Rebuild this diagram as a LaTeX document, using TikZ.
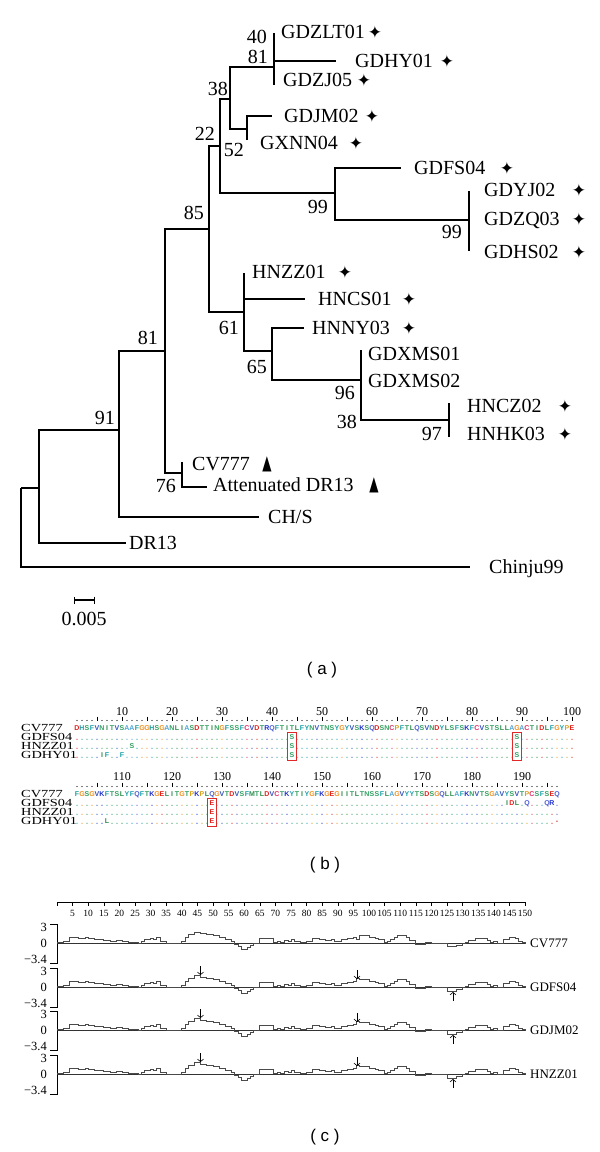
\documentclass[tikz,border=0pt]{standalone}
\usepackage{fontspec}
\usepackage{graphicx}
\setmainfont{Liberation Serif}
\newfontfamily\symfont{DejaVu Sans}
\newfontfamily\panelfont{Liberation Sans}
\newfontfamily\seqfont{Liberation Sans}
\usetikzlibrary{arrows.meta}

% residue colours
\definecolor{aaD}{HTML}{E0201B}\colorlet{aaE}{aaD}
\definecolor{aaK}{HTML}{1E2FD0}\colorlet{aaR}{aaK}
\definecolor{aaC}{HTML}{E0306A}
\definecolor{aaG}{HTML}{F0901E}
\definecolor{aaP}{HTML}{D6A21A}
\definecolor{aaH}{HTML}{1AA0A8}\colorlet{aaY}{aaH}\colorlet{aaF}{aaH}\colorlet{aaW}{aaH}
\definecolor{aaS}{HTML}{30A060}\colorlet{aaT}{aaS}\colorlet{aaN}{aaS}
\definecolor{aaQ}{HTML}{4F5FD0}
\definecolor{aaA}{HTML}{4FA6D6}
\definecolor{aaV}{HTML}{3050C0}
\definecolor{aaL}{HTML}{2C8C4C}\colorlet{aaI}{aaL}\colorlet{aaM}{aaL}
\definecolor{aagap}{HTML}{C03030}
\definecolor{boxred}{HTML}{E02828}
\definecolor{hygray}{HTML}{4A4A4A}

% changes against CV777
\newcommand\subst[3]{\expandafter\def\csname sub#1#2\endcsname{#3}\expandafter\def\csname subc#1#2\endcsname{#3}}
\newcommand\substgap[2]{\expandafter\def\csname sub#1#2\endcsname{-}\expandafter\def\csname subc#1#2\endcsname{gap}}
\subst{zz}{12}{S}
\subst{hy}{6}{I}\subst{hy}{7}{F}\subst{hy}{10}{F}
\subst{fs}{44}{S}\subst{zz}{44}{S}\subst{hy}{44}{S}
\subst{fs}{89}{S}\subst{zz}{89}{S}\subst{hy}{89}{S}
\subst{hy}{107}{L}
\subst{fs}{128}{E}\subst{zz}{128}{E}\subst{hy}{128}{E}
\subst{fs}{187}{I}\subst{fs}{188}{D}\subst{fs}{189}{L}
\subst{fs}{191}{Q}\subst{fs}{195}{Q}\subst{fs}{196}{R}
\substgap{hy}{197}

\def\seqA{D,H,S,F,V,N,I,T,V,S,A,A,F,G,G,H,S,G,A,N,L,I,A,S,D,T,T,I,N,G,F,S,S,F,C,V,D,T,R,Q,F,T,I,T,L,F,Y,N,V,T,N,S,Y,G,Y,V,S,K,S,Q,D,S,N,C,P,F,T,L,Q,S,V,N,D,Y,L,S,F,S,K,F,C,V,S,T,S,L,L,A,G,A,C,T,I,D,L,F,G,Y,P,E}
\def\seqB{F,G,S,G,V,K,F,T,S,L,Y,F,Q,F,T,K,G,E,L,I,T,G,T,P,K,P,L,Q,G,V,T,D,V,S,F,M,T,L,D,V,C,T,K,Y,T,I,Y,G,F,K,G,E,G,I,I,T,L,T,N,S,S,F,L,A,G,V,Y,Y,T,S,D,S,G,Q,L,L,A,F,K,N,V,T,S,G,A,V,Y,S,V,T,P,C,S,F,S,E,Q}

% one block of the alignment: list, offset, y of ruler
\newcommand\alblock[3]{%
  \foreach \ch [count=\i] in #1 {
    \pgfmathtruncatemacro\rn{\i+#2}
    \node[res=\ch] (cv-\rn) at ({72+5*\i},#3+9) {\ch};
    \foreach \r/\dy in {fs/18,zz/27,hy/36} {
      \ifcsname sub\r\rn\endcsname
        \edef\sl{\csname sub\r\rn\endcsname}\edef\sc{\csname subc\r\rn\endcsname}
        \node[res=\sc] (\r-\rn) at ({72+5*\i},#3+\dy) {\sl};
      \else
        \fill[fill=aa\ch] ({72+5*\i},#3+\dy+2.3) circle[radius=0.65pt];
      \fi
    }
  }}
\newcommand\alruler[2]{%
  \foreach \i in {1,...,#1} {
    \pgfmathtruncatemacro\m{mod(\i,5)}
    \ifnum\m=0 \draw[rulemark] ({72+5*\i},#2-2.5) -- ({72+5*\i},#2+2);
    \else \fill ({72+5*\i},#2+1.5) circle[radius=0.55pt]; \fi
  }}

% hydropathy steps: start residue / value
\def\hyprof{2/0.3,4/0.9,7/0.75,9/0.95,10/0.7,12/0.6,15/0.5,17/0.2,19/0.5,21/0.35,23/0.15,25/0.05,26/-0.1,27/0.3,28/0.55,30/0.8,31/0.55,32/0.9,33/0.35,35/0,40/0.3,41/1.0,42/1.5,44/\vpk,46/1.6,48/1.45,50/1.2,52/1.0,54/0.6,56/0.3,57/-0.3,58/-0.6,59/-1.0,61/-0.8,62/-0.4,63/0,65/0.7,69.5/0.05,70.5/0.3,71.5/0.15,73/0.45,74/0.3,75/0.6,76/0.2,78/0.1,80/0.25,82/0.7,84/0.55,86/0.45,88/0.6,89/0.2,91/0.55,93/0.7,95/0.95,96/\vsp,97/1.3,99/1.2,100/0.9,102/0.7,103/0.55,105/0.15,106/0.3,107/0.6,108/0.9,109/1.2,112/1.0,113/0.4,115/-0.3,116/-0.15,118/0.1,120/0,125/\vdp,128/-0.4,130/-0.1,131/0.1,132/0.5,134/0.7,136/0.8,138/0.5,139/0.1,140/0.3,141/0,143/0.6,145/0.9,147/0.7,148/0.3,149/0.05,150/0}

\begin{document}
\begin{tikzpicture}[x=1pt, y=-1pt,
    branch/.style={line width=1.2pt},
    leaf/.style={anchor=west, inner sep=0pt, font=\fontsize{20}{24}\selectfont, text height=13.2pt, text depth=0pt},
    boot/.style={leaf, anchor=east},
    tagstar/.style={inner sep=0pt, font=\symfont\fontsize{17}{17}\selectfont},
    tagtri/.style={inner sep=0pt, font=\symfont\fontsize{20}{20}\selectfont},
    panel/.style={inner sep=0pt, font=\panelfont\fontsize{17}{20}\selectfont},
    seqname/.style={anchor=west, inner sep=0pt, font=\fontsize{10.8}{11}\selectfont, text height=7.2pt, text depth=0pt},
    posnum/.style={inner sep=0pt, font=\fontsize{12}{12}\selectfont, text height=8pt, text depth=0pt},
    res/.style={inner sep=0pt, font=\seqfont\bfseries\fontsize{7}{7}\selectfont, text=aa#1, text height=5pt, text depth=0pt},
    hlbox/.style={draw=boxred, line width=0.6pt},
    rulemark/.style={line width=0.5pt},
    axisline/.style={line width=0.6pt},
    zeroline/.style={line width=0.8pt, draw=black!80},
    hyline/.style={line width=0.7pt, draw=hygray},
    hyarrow/.style={-{Straight Barb[length=2.5pt,width=6pt]}, line width=0.6pt},
    ylab/.style={anchor=east, inner sep=0pt, font=\fontsize{12.5}{12.5}\selectfont, text height=8.3pt, text depth=0pt},
    plotname/.style={anchor=west, inner sep=0pt, font=\fontsize{13}{13}\selectfont, text height=8.6pt, text depth=0pt},
    tick/.style={inner sep=0pt, font=\fontsize{9.5}{9.5}\selectfont, text height=6.4pt, text depth=0pt}]
  \useasboundingbox (0,0) rectangle (600,1152);

  % (a) tree
  \coordinate (root) at (21,488);
  \coordinate (nA) at (39,488);
  \coordinate (n91) at (119,430);
  \coordinate (n81) at (165,351);
  \coordinate (n85) at (209,229);
  \coordinate (n22) at (220,146);
  \coordinate (n38) at (230,99);
  \coordinate (n81b) at (274,67);
  \coordinate (n52) at (247,129);
  \coordinate (n99a) at (335,193);
  \coordinate (n99b) at (469,220);
  \coordinate (n61) at (244,312);
  \coordinate (n65) at (272,351);
  \coordinate (n96) at (361,380);
  \coordinate (n97) at (449,420);
  \coordinate (n76) at (182,473);
  \coordinate (t-gdzlt) at (274,33);
  \coordinate (t-gdhy) at (336,61);
  \coordinate (t-gdzj) at (274,85);
  \coordinate (t-gdjm) at (272,116);
  \coordinate (t-gxnn) at (247,140);
  \coordinate (t-gdfs) at (401,168);
  \coordinate (t-gdyj) at (469,191);
  \coordinate (t-gdhs) at (469,251);
  \coordinate (t-hnzz) at (244,273);
  \coordinate (t-hncs) at (305,299);
  \coordinate (t-hnny) at (304,328);
  \coordinate (t-gdxms) at (361,350);
  \coordinate (t-hncz) at (449,403);
  \coordinate (t-hnhk) at (449,437);
  \coordinate (t-cv) at (182,462);
  \coordinate (t-att) at (207,487);
  \coordinate (t-chs) at (259,517);
  \coordinate (t-dr13) at (126,543);
  \coordinate (t-chinju) at (470,567);

  \foreach \p/\c in {root/t-chinju, root/nA, nA/n91, nA/t-dr13, n91/n81, n91/t-chs,
      n81/n85, n81/n76, n85/n22, n85/n61, n22/n38, n22/n99a, n38/n81b, n38/n52,
      n81b/t-gdzlt, n81b/t-gdhy, n81b/t-gdzj, n52/t-gdjm, n52/t-gxnn,
      n99a/t-gdfs, n99a/n99b, n99b/t-gdyj, n99b/t-gdhs,
      n61/t-hnzz, n61/t-hncs, n61/n65, n65/t-hnny, n65/n96,
      n96/t-gdxms, n96/n97, n97/t-hncz, n97/t-hnhk, n76/t-cv, n76/t-att}
    \draw[branch] (\p) |- (\c);

  \foreach \nm/\x/\y/\t in {GDZLT01/281/32/gdzlt, GDHY01/355/61/gdhy, GDZJ05/283/80/gdzj,
      GDJM02/284/116/gdjm, GXNN04/260/143/gxnn, GDFS04/414/168/gdfs,
      GDYJ02/484/190/gdyj, GDZQ03/484/219/gdzq, GDHS02/484/252/gdhs,
      HNZZ01/252/272/hnzz, HNCS01/318/299/hncs, HNNY03/312/328/hnny,
      GDXMS01/368/354/gdxms1, GDXMS02/368/381/gdxms2, HNCZ02/467/406/hncz,
      HNHK03/467/434/hnhk, CV777/192/464/cv, Attenuated DR13/213/485/att,
      DR13/129/543/dr13, Chinju99/489/567/chinju}
    \node[leaf] (\t) at (\x,\y) {\nm};
  \node[leaf] (chs) at (268,517) {CH/S};

  \foreach \x/\y/\t in {375/32/gdzlt, 447/61/gdhy, 364/80/gdzj, 372/116/gdjm, 356/143/gxnn,
      507/168/gdfs, 579/190/gdyj, 579/219/gdzq, 579/252/gdhs, 345/272/hnzz,
      409/299/hncs, 409/328/hnny, 565/406/hncz, 565/434/hnhk}
    \node[tagstar] (s-\t) at (\x,\y) {✦};
  \node[tagtri] (tri-cv) at (267,464) {\scalebox{0.6}[1]{▲}};
  \node[tagtri] (tri-att) at (374,485) {\scalebox{0.6}[1]{▲}};

  % bootstrap values
  \foreach \v/\x/\y/\t in {40/267/37/a, 81/268/57/b, 38/228/89/c, 52/244/150/d,
      22/215/134/e, 85/204/213/f, 99/328/207/g, 99/462/232/h, 61/239/328/i,
      65/267/367/j, 96/355/393/k, 38/357/422/l, 97/442/434/m, 81/158/338/n,
      76/176/486/o, 91/115/418/p}
    \node[boot] (bs-\t) at (\x,\y) {\v};

  % scale bar
  \coordinate (sb-l) at (74,600);
  \coordinate (sb-r) at (95,600);
  \draw[line width=1.1pt, {Bar[width=7pt]}-{Bar[width=7pt]}] (sb-l) -- (sb-r);
  \node[leaf, anchor=center] (sb-lab) at (84,619) {0.005};

  \node[panel] (lab-a) at (322,670) {( a )};

  % (b) alignment
  \foreach \r/\nm/\y in {cv/CV777/728, fs/GDFS04/737, zz/HNZZ01/746, hy/GDHY01/755}
    \node[seqname] (nm1-\r) at (21,\y) {\scalebox{1.33}[1]{\nm}};
  \foreach \r/\nm/\y in {cv/CV777/794, fs/GDFS04/803, zz/HNZZ01/812, hy/GDHY01/821}
    \node[seqname] (nm2-\r) at (21,\y) {\scalebox{1.33}[1]{\nm}};
  \foreach \v in {10,20,...,100}
    \node[posnum] (p1-\v) at ({72+5*\v},711) {\v};
  \foreach \v in {10,20,...,90}
    \node[posnum] (p2-\v) at ({72+5*\v},776) {\number\numexpr\v+100\relax};
  \alruler{100}{719}
  \alruler{97}{785}
  \alblock{\seqA}{0}{719}
  \alblock{\seqB}{100}{785}
  \draw[hlbox] (287.5,732.5) rectangle (296.5,760.5);
  \draw[hlbox] (512.5,732.5) rectangle (521.5,760.5);
  \draw[hlbox] (207.5,798.5) rectangle (216.5,826.5);

  \node[panel] (lab-b) at (325,865) {( b )};

  % (c) hydropathy
  \draw[axisline] (57,902) -- (525,902);
  \foreach \v in {0,5,...,150}
    \draw[axisline] ({57+3.12*\v},902) -- ++(0,4);
  \foreach \v in {5,10,...,150}
    \node[tick] (hx-\v) at ({57+3.12*\v},913) {\v};

  \foreach \nm/\zy/\pkv/\spv/\dpv [count=\k] in {CV777/943/1.8/0.6/-0.5, GDFS04/987/1.9/1.5/-0.75,
      GDJM02/1030/1.9/1.5/-0.75, HNZZ01/1074/1.9/1.5/-0.75} {
    \draw[axisline] (50,\zy-19) -- (57,\zy-19) -- (57,\zy+20) -- (50,\zy+20);
    \node[ylab] (yt-\k) at (47,\zy-16) {3};
    \node[ylab] (yz-\k) at (47,\zy) {0};
    \node[ylab] (yb-\k) at (47,\zy+16) {−3.4};
    \draw[zeroline] (57,\zy) -- (525,\zy);
    \begin{scope}[shift={(57,\zy)}, x=3.12pt, y=6pt]
      \def\vpk{\pkv}\def\vsp{\spv}\def\vdp{\dpv}
      \draw[hyline] (0,0.05) \foreach \hx/\hv in \hyprof {-| (\hx,\hv)};
    \end{scope}
    \node[plotname] (pn-\k) at (530,\zy) {\nm};
    \ifnum\k>1
      \coordinate (a1t-\k) at (200.5,\zy-21);
      \coordinate (a1h-\k) at (200.5,\zy-12);
      \coordinate (a2t-\k) at (357,\zy-17);
      \coordinate (a2h-\k) at (357,\zy-8);
      \coordinate (a3t-\k) at (453,\zy+14);
      \coordinate (a3h-\k) at (453,\zy+5);
      \draw[hyarrow] (a1t-\k) -- (a1h-\k);
      \draw[hyarrow] (a2t-\k) -- (a2h-\k);
      \draw[hyarrow] (a3t-\k) -- (a3h-\k);
    \fi
  }

  \node[panel] (lab-c) at (325,1137) {( c )};
\end{tikzpicture}
\end{document}
